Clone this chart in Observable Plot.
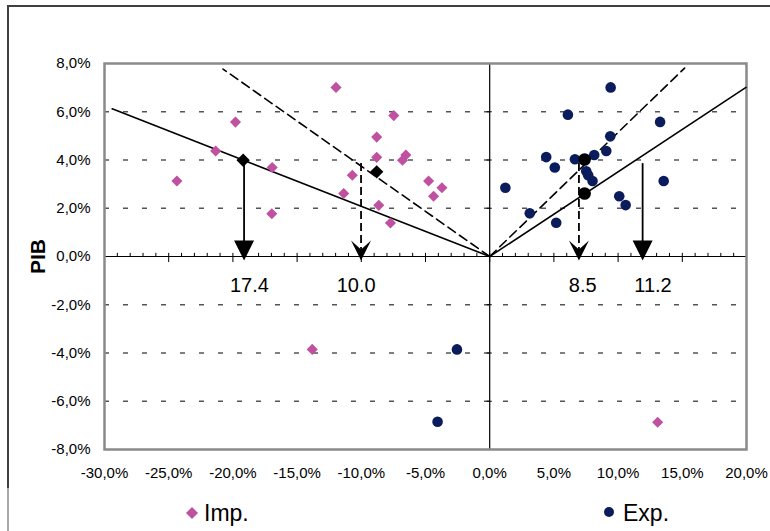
<!DOCTYPE html>
<html>
<head>
<meta charset="utf-8">
<script src="https://cdn.jsdelivr.net/npm/d3@7"></script>
<script src="https://cdn.jsdelivr.net/npm/@observablehq/plot@0.6"></script>
<style>
  html, body { margin: 0; padding: 0; background: #fff; }
  body { width: 770px; height: 531px; position: relative; overflow: hidden; font-family: "Liberation Sans", Arial, sans-serif; }
  #frameTop { position: absolute; left: 7px; top: 5px; right: 0; height: 2px; background: #404040; z-index: 5; }
  #frameLeft { position: absolute; left: 7px; top: 5px; width: 2px; height: 483px; background: #404040; z-index: 5; }
  #frameLeft2 { position: absolute; left: 7px; top: 488px; width: 2px; bottom: 0; background: #a8a8a8; z-index: 5; }
  #chart { position: absolute; left: 0; top: 0; width: 770px; z-index: 1; }
  #legend { position: relative; width: 770px; height: 36px; font-size: 23px; line-height: 36px; color: #000; }
  #legend .item { position: absolute; top: 0; }
  #legend svg { position: absolute; }
</style>
</head>
<body>
<div id="chart"></div>
<div id="frameTop"></div><div id="frameLeft"></div><div id="frameLeft2"></div>
<script>
// ---- data ----
const xTicks = [-30, -25, -20, -15, -10, -5, 0, 5, 10, 15, 20];
const yTicks = [-8, -6, -4, -2, 0, 2, 4, 6, 8];
const gridY = [-6, -4, -2, 2, 4, 6];

// Imp. (pink diamonds)
const impX = [-24.36, -21.34, -19.8, -16.94, -16.97, -11.97, -7.47, -8.80, -8.80, -6.53, -6.79, -10.70, -11.37, -8.64, -7.73, -4.76, -3.72, -4.37, -13.82, 13.08];
const impY = [3.13, 4.37, 5.57, 3.69, 1.77, 7.01, 5.84, 4.95, 4.11, 4.21, 3.99, 3.37, 2.61, 2.12, 1.39, 3.13, 2.85, 2.50, -3.85, -6.87];

// Exp. (navy circles)
const expX = [1.22, 3.12, 5.18, 4.40, 5.07, 6.09, 6.64, 7.52, 7.67, 8.01, 8.14, 9.08, 9.39, 9.42, 10.09, 10.59, 13.27, 13.55, -2.55, -4.06];
const expY = [2.85, 1.79, 1.40, 4.12, 3.69, 5.88, 4.03, 3.53, 3.37, 3.13, 4.21, 4.37, 4.98, 7.01, 2.50, 2.13, 5.58, 3.13, -3.85, -6.85];

// highlighted points
const impHiX = [-19.2, -8.8];
const impHiY = [3.99, 3.51];
const expHiX = [7.39, 7.39];
const expHiY = [4.02, 2.61];

// fitted lines through origin (endpoints)
const impSolidX = [0, -29.4], impSolidY = [0, 6.12];
const impDashX = [0, -20.77], impDashY = [0, 7.77];
const expDashX = [0, 15.18], expDashY = [0, 7.81];
const expSolidX = [0, 19.96], expSolidY = [0, 7.01];

// vertical arrows down to the axis
const arrowX = [-19.13, -10.02, 6.95, 11.91];
const arrowTop = [4.0, 3.85, 3.85, 3.85];
const arrowDashed = [false, true, true, false];

// value labels
const labelText = ["17.4", "10.0", "8.5", "11.2"];
const labelX = [-18.71, -10.40, 7.24, 12.72];
const labelY = [-1.19, -1.19, -1.19, -1.19];

// ---- build tables ----
const zip = (xs, ys) => xs.map((x, i) => ({x, y: ys[i]}));
const imp = zip(impX, impY);
const exp = zip(expX, expY);
const impHi = zip(impHiX, impHiY);
const expHi = zip(expHiX, expHiY);
const arrows = arrowX.map((x, i) => ({x, top: arrowTop[i], dashed: arrowDashed[i]}));
const labels = labelText.map((t, i) => ({t, x: labelX[i], y: labelY[i]}));
const minorTicks = d3.range(-29, 20).filter(d => d % 5 !== 0);
const majorTicks = xTicks;

const PINK = "#c050a0";
const NAVY = "#0b1c5c";
const fmt = d => d.toFixed(1).replace(".", ",") + "%";

const headSolid = {draw(ctx, size) { const k = Math.sqrt(size / Math.PI) / 10;
  ctx.moveTo(0, 0); ctx.lineTo(-10 * k, -20 * k); ctx.lineTo(10 * k, -20 * k); ctx.closePath(); }};
const headStealth = {draw(ctx, size) { const k = Math.sqrt(size / Math.PI) / 10;
  ctx.moveTo(0, 0); ctx.lineTo(-10 * k, -20 * k); ctx.lineTo(0, -11 * k); ctx.lineTo(10 * k, -20 * k); ctx.closePath(); }};

const chart = Plot.plot({
  width: 770,
  height: 495,
  marginLeft: 104,
  marginRight: 24,
  marginTop: 63,
  marginBottom: 46,
  style: {fontFamily: "'Liberation Sans', Arial, sans-serif", fontSize: "15px", color: "#000", background: "transparent", overflow: "visible"},
  x: {domain: [-30, 20], ticks: xTicks, tickFormat: fmt, tickSize: 0, tickPadding: 18, label: null},
  y: {domain: [-8, 8], ticks: yTicks, tickFormat: fmt, tickSize: 0, tickPadding: 14, label: null},
  marks: [
    Plot.ruleY(gridY, {stroke: "#555", strokeWidth: 1.5, strokeDasharray: "5,14"}),
    Plot.ruleY([0], {stroke: "#000", strokeWidth: 1.2}),
    Plot.ruleX([0], {stroke: "#000", strokeWidth: 1.2}),
    Plot.ruleX(minorTicks, {x: d => d, y1: 0, y2: 0.13, stroke: "#000", strokeWidth: 1}),
    Plot.ruleX(majorTicks, {x: d => d, y1: -0.25, y2: 0.13, stroke: "#000", strokeWidth: 1}),
    Plot.ruleY(gridY, {y: d => d, x1: -0.2, x2: 0.2, stroke: "#000", strokeWidth: 1}),
    Plot.frame({stroke: "#8a8a8a", strokeWidth: 2.5}),
    // fitted lines
    Plot.line(zip(impSolidX, impSolidY), {x: "x", y: "y", stroke: "#000", strokeWidth: 1.6}),
    Plot.line(zip(impDashX, impDashY), {x: "x", y: "y", stroke: "#000", strokeWidth: 1.6, strokeDasharray: "9,5"}),
    Plot.line(zip(expSolidX, expSolidY), {x: "x", y: "y", stroke: "#000", strokeWidth: 1.6}),
    Plot.line(zip(expDashX, expDashY), {x: "x", y: "y", stroke: "#000", strokeWidth: 1.6, strokeDasharray: "9,5"}),
    // points
    Plot.dot(imp, {x: "x", y: "y", symbol: "diamond2", r: 5, fill: PINK, stroke: "none"}),
    Plot.dot(exp, {x: "x", y: "y", symbol: "circle", r: 5.3, fill: NAVY, stroke: "none"}),
    Plot.dot(impHi, {x: "x", y: "y", symbol: "diamond2", r: 6, fill: "#000", stroke: "none"}),
    Plot.dot(expHi, {x: "x", y: "y", symbol: "circle", r: 6.3, fill: "#000", stroke: "none"}),
    // arrows
    Plot.ruleX(arrows.filter(d => !d.dashed), {x: "x", y1: "top", y2: 0, stroke: "#000", strokeWidth: 1.8}),
    Plot.ruleX(arrows.filter(d => d.dashed), {x: "x", y1: "top", y2: 0, stroke: "#000", strokeWidth: 1.8, strokeDasharray: "8,4"}),
    Plot.dot(arrows.filter(d => !d.dashed), {x: "x", y: 0, dy: 4, symbol: headSolid, r: 10, fill: "#000", stroke: "none"}),
    Plot.dot(arrows.filter(d => d.dashed), {x: "x", y: 0, dy: 4, symbol: headStealth, r: 10, fill: "#000", stroke: "none"}),
    // labels
    Plot.text(labels, {x: "x", y: "y", text: "t", fontSize: 20, fill: "#000"}),
    Plot.text(["PIB"], {frameAnchor: "left", text: d => d, rotate: -90, dx: -66, textAnchor: "middle", fontSize: 21, fontWeight: "bold", fill: "#000"})
  ]
});
document.getElementById("chart").appendChild(chart);

const legend = document.createElement("div");
legend.id = "legend";
legend.innerHTML = `
  <svg width="14" height="14" style="left:185px; top:11px"><path d="M7,1 L13,7 L7,13 L1,7 Z" fill="${PINK}"/></svg>
  <span class="item" style="left:204px">Imp.</span>
  <svg width="14" height="14" style="left:602px; top:10px"><circle cx="7" cy="7" r="5" fill="${NAVY}"/></svg>
  <span class="item" style="left:623px">Exp.</span>`;
document.getElementById("chart").appendChild(legend);
</script>
</body>
</html>
